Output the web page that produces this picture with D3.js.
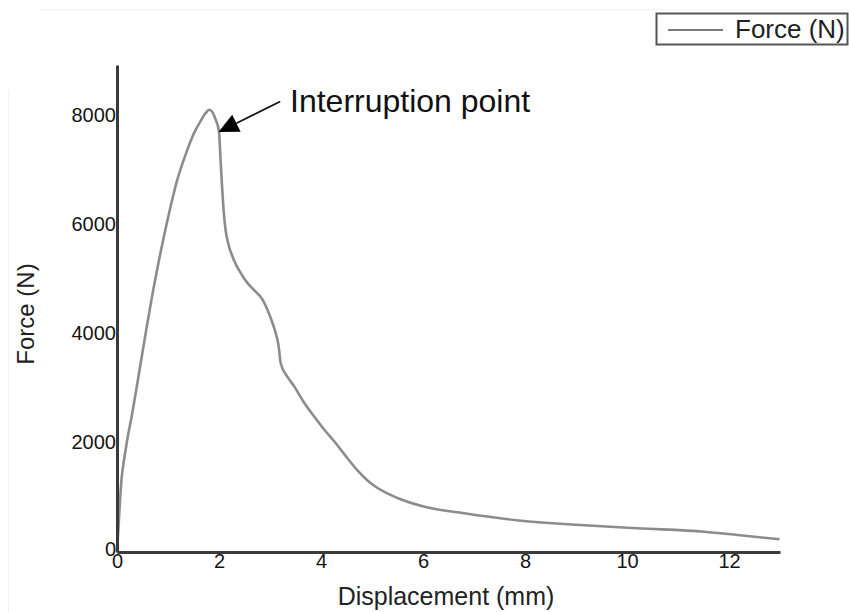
<!DOCTYPE html>
<html>
<head>
<meta charset="utf-8">
<script src="https://cdn.jsdelivr.net/npm/d3@7"></script>
<style>
  html, body { margin: 0; padding: 0; background: #fff; }
  svg { display: block; font-family: "Liberation Sans", Arial, sans-serif; }
  .axis path { stroke: #3a3a3a; stroke-width: 3; }
  .axis text { fill: #151515; font-size: 20px; font-family: "Liberation Sans", Arial, sans-serif; }
</style>
</head>
<body>
<div id="chart"></div>
<script>
/* Force vs displacement curve */

const displacement = [0, 0.02, 0.05, 0.09, 0.14, 0.19, 0.3, 0.4, 0.56, 0.74, 0.97, 1.19, 1.35, 1.51, 1.65, 1.75, 1.81, 1.87, 1.93, 2.0,
  2.03, 2.06, 2.09, 2.13, 2.17, 2.29, 2.45, 2.56, 2.68, 2.86, 2.95, 3.05, 3.11, 3.17, 3.21, 3.34, 3.48, 3.66, 3.87, 4.05, 4.26,
  4.46, 4.72, 4.9, 5.05, 5.5, 6.03, 6.81, 7.79, 9.0, 10.2, 11.52, 12.17, 12.99];
const force = [0, 300, 800, 1350, 1700, 2000, 2550, 3100, 4000, 4950, 6000, 6850, 7300, 7680, 7920, 8060, 8110, 8070, 7940, 7710,
  7200, 6700, 6275, 5900, 5700, 5360, 5080, 4930, 4810, 4620, 4440, 4195, 4020, 3770, 3460, 3215, 3030, 2750, 2480, 2260, 2030,
  1790, 1490, 1320, 1210, 990, 830, 710, 587, 500, 435, 372, 312, 233];

const xTicks = [0, 2, 4, 6, 8, 10, 12];
const yTicks = [0, 2000, 4000, 6000, 8000];
const xMax = 13;
const yMax = 8930;

const xTitle = 'Displacement (mm)';
const yTitle = 'Force (N)';
const legendLabel = 'Force (N)';
const noteText = 'Interruption point';
// arrow tip and tail, in data units
const noteTip = [1.99, 7700];
const noteTail = [3.2, 8260];

const W = 849, H = 612;

function render() {
  const svg = d3.select('#chart').append('svg')
    .attr('width', W).attr('height', H);

  // faint frame left over from the screenshot
  svg.append('line').attr('x1', 40).attr('x2', W).attr('y1', 9.5).attr('y2', 9.5)
    .attr('stroke', '#f1f1f1').attr('stroke-width', 1);
  svg.append('line').attr('x1', 8.5).attr('x2', 8.5).attr('y1', 90).attr('y2', H)
    .attr('stroke', '#f1f1f1').attr('stroke-width', 1);

  const x = d3.scaleLinear().domain([0, xMax]).range([117, 780]);
  const y = d3.scaleLinear().domain([0, yMax]).range([552, 65]);

  const line = d3.line()
    .x((d, i) => x(displacement[i]))
    .y((d, i) => y(force[i]))
    .curve(d3.curveMonotoneX);

  svg.append('path')
    .datum(force)
    .attr('d', line)
    .attr('fill', 'none')
    .attr('stroke', '#8c8c8c')
    .attr('stroke-width', 2.6)
    .attr('stroke-linejoin', 'round');

  const gx = svg.append('g').attr('class', 'axis')
    .attr('transform', `translate(0,${y(0)})`)
    .call(d3.axisBottom(x).tickValues(xTicks).tickSize(0).tickPadding(2).tickFormat(d3.format('d')));
  gx.select('.domain').attr('stroke-width', 3);

  const gy = svg.append('g').attr('class', 'axis')
    .attr('transform', `translate(${x(0)},0)`)
    .call(d3.axisLeft(y).tickValues(yTicks).tickSize(0).tickPadding(1).tickFormat(d3.format('d')));
  gy.selectAll('text').attr('dy', d => d === 0 ? '0.15em' : '0.3em');

  // axis titles
  svg.append('text')
    .attr('x', 446).attr('y', 605)
    .attr('text-anchor', 'middle')
    .attr('font-size', 25).attr('fill', '#222')
    .text(xTitle);

  svg.append('text')
    .attr('transform', 'translate(34,314) rotate(-90)')
    .attr('text-anchor', 'middle')
    .attr('font-size', 24).attr('fill', '#222')
    .text(yTitle);

  // annotation arrow
  const tip = [x(noteTip[0]), y(noteTip[1])];
  const tail = [x(noteTail[0]), y(noteTail[1])];
  const ang = Math.atan2(tip[1] - tail[1], tip[0] - tail[0]);
  const headLen = 20, headHalf = 9.5;
  const bx = tip[0] - headLen * Math.cos(ang), by = tip[1] - headLen * Math.sin(ang);
  const px = -Math.sin(ang) * headHalf, py = Math.cos(ang) * headHalf;

  svg.append('line')
    .attr('x1', tail[0]).attr('y1', tail[1])
    .attr('x2', bx).attr('y2', by)
    .attr('stroke', '#111').attr('stroke-width', 1.6);
  svg.append('path')
    .attr('d', `M${tip[0]},${tip[1]}L${bx + px},${by + py}L${bx - px},${by - py}Z`)
    .attr('fill', '#000');

  svg.append('text')
    .attr('x', 290).attr('y', 112)
    .attr('font-size', 32).attr('fill', '#111')
    .text(noteText);

  // legend
  const lg = svg.append('g');
  lg.append('rect')
    .attr('x', 656.5).attr('y', 13.5).attr('width', 191).attr('height', 31)
    .attr('fill', '#fff').attr('stroke', '#555').attr('stroke-width', 2);
  lg.append('line')
    .attr('x1', 668).attr('x2', 723).attr('y1', 30).attr('y2', 30)
    .attr('stroke', '#7a7a7a').attr('stroke-width', 2);
  lg.append('text')
    .attr('x', 735).attr('y', 38)
    .attr('font-size', 26).attr('fill', '#222')
    .text(legendLabel);
}

render();
</script>
</body>
</html>
